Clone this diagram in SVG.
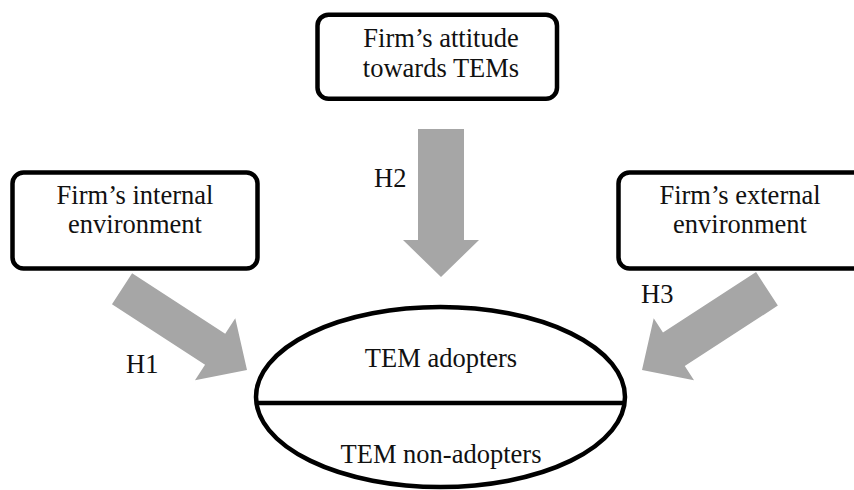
<svg xmlns="http://www.w3.org/2000/svg" width="854" height="490" viewBox="0 0 854 490">
  <style>
    .box { fill: #ffffff; stroke: #000000; stroke-width: 4.5; }
    .oval { fill: #ffffff; stroke: #000000; stroke-width: 4.5; }
    .arrow { fill: #a6a6a6; stroke: none; }
    text { font-family: "Liberation Serif", "Times New Roman", serif; font-size: 26.5px; fill: #111111; }
    .c { text-anchor: middle; }
  </style>
  <rect width="854" height="490" fill="#ffffff"/>

  <!-- Block arrows (tip at local origin, pointing along +x) -->
  <g id="connectors">
    <polygon id="arrow-h2" class="arrow" transform="translate(441 277) rotate(90)"
             points="-148,-23 -37,-23 -37,-38 0,0 -37,38 -37,23 -148,23"/>
    <polygon id="arrow-h1" class="arrow" transform="translate(247 370) rotate(33)"
             points="-149,-18.5 -38,-18.5 -38,-37 0,0 -38,37 -38,18.5 -149,18.5"/>
    <polygon id="arrow-h3" class="arrow" transform="translate(642 370) rotate(147)"
             points="-149,-20 -38,-20 -38,-37 0,0 -38,37 -38,20 -149,20"/>
    <text x="374" y="187">H2</text>
    <text x="126" y="373">H1</text>
    <text x="641" y="303">H3</text>
  </g>

  <g id="attitude">
    <rect class="box" x="317.5" y="14.7" width="239.5" height="84" rx="11"/>
    <text class="c" x="441" y="47">Firm’s attitude</text>
    <text class="c" x="441" y="76.5">towards TEMs</text>
  </g>

  <g id="internal">
    <rect class="box" x="12.5" y="172.5" width="245" height="96" rx="11"/>
    <text class="c" x="135" y="203.5">Firm’s internal</text>
    <text class="c" x="135" y="233">environment</text>
  </g>

  <g id="external">
    <rect class="box" x="618.5" y="172.5" width="260" height="96" rx="11"/>
    <text class="c" x="740" y="203.5">Firm’s external</text>
    <text class="c" x="740" y="233">environment</text>
  </g>

  <g id="adopters">
    <ellipse class="oval" cx="440.5" cy="397" rx="184.5" ry="90"/>
    <line x1="255" y1="403" x2="626" y2="403" stroke="#000000" stroke-width="4.5"/>
    <text class="c" x="441" y="367">TEM adopters</text>
    <text class="c" x="441" y="463">TEM non-adopters</text>
  </g>
</svg>
